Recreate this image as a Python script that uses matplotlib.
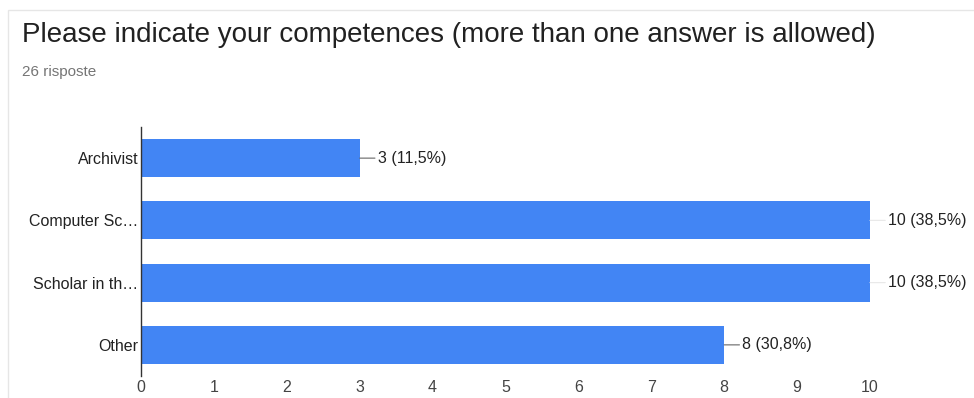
import matplotlib
matplotlib.use("Agg")
import matplotlib.pyplot as plt
from matplotlib.patches import Rectangle

categories = ["Archivist", "Computer Sc…", "Scholar in th…", "Other"]
counts = [3, 10, 10, 8]
labels = ["3 (11,5%)", "10 (38,5%)", "10 (38,5%)", "8 (30,8%)"]
xticks = list(range(0, 11))

plt.rcParams['font.family'] = ['Liberation Sans', 'DejaVu Sans']

fig = plt.figure(figsize=(9.74, 3.98), dpi=100)
fig.patches.append(Rectangle((8/974, -0.05), 1.2, 1 - 10/398 + 0.05, transform=fig.transFigure,
                             fill=False, edgecolor="#e6e6e6", linewidth=1.0))
fig.text(22/974, 1 - 35/398, "Please indicate your competences (more than one answer is allowed)",
         fontsize=20, color="#212121", va="center", ha="left")
fig.text(22/974, 1 - 72/398, "26 risposte", fontsize=11, color="#757575", va="center", ha="left")

ax = fig.add_axes([141/974, 1 - 376/398, (870 - 141)/974, (376 - 127)/398])
ypos = list(range(len(categories)))
ax.barh(ypos, counts, height=0.61, color="#4285F4")
ax.set_xlim(0, 10)
ax.set_ylim(3.5, -0.5)
ax.set_yticks(ypos)
ax.set_yticklabels(categories, fontsize=11.5, color="#222222")
ax.set_xticks(xticks)
ax.set_xticklabels([str(t) for t in xticks], fontsize=11.5, color="#444444")
ax.tick_params(axis="both", length=0)
ax.tick_params(axis="y", pad=2)
ax.tick_params(axis="x", pad=3)
for s in ["top", "right", "bottom"]:
    ax.spines[s].set_visible(False)
ax.spines["left"].set_color("#333333")
ax.spines["left"].set_linewidth(1.0)

for y, v, lab in zip(ypos, counts, labels):
    lc = "#e8e8e8" if v == max(counts) else "#666666"
    ax.annotate(lab, xy=(v, y), xytext=(13, 0), textcoords="offset points",
                va="center", ha="left", fontsize=11.5, color="#222222",
                arrowprops=dict(arrowstyle="-", color=lc, lw=0.8,
                                shrinkA=0, shrinkB=0))

fig.savefig("out.png", dpi=100)
